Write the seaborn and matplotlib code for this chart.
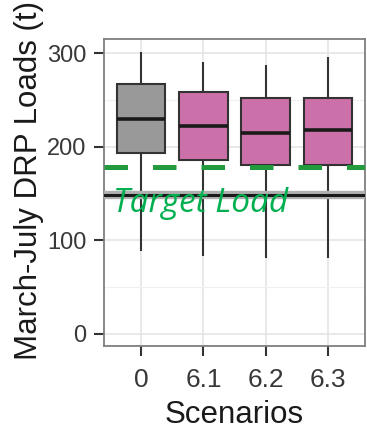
import pandas as pd
import matplotlib
matplotlib.use("Agg")
import matplotlib.pyplot as plt
import matplotlib.patheffects as pe
import seaborn as sns

# box summary values (t)
scenarios = ["0", "6.1", "6.2", "6.3"]
whisk_low = [89, 83, 81, 81]
q1 = [193, 186, 180, 180]
median = [230, 222, 215, 218]
q3 = [267, 258, 252, 252]
whisk_high = [301, 291, 287, 296]
fill_colors = ["#999999", "#CC70AA", "#CC70AA", "#CC70AA"]

target_dash = 178
target_load = 148

rows = []
for i, s in enumerate(scenarios):
    for v in (whisk_low[i], q1[i], median[i], q3[i], whisk_high[i]):
        rows.append({"scenario": s, "load": v})
df = pd.DataFrame(rows)

sns.set_theme(style="white")
plt.rcParams["font.family"] = ["Liberation Sans", "DejaVu Sans"]

fig = plt.figure(figsize=(3.67, 4.30), dpi=100)
ax = fig.add_axes([0.283, 0.195, 0.712, 0.714])

sns.boxplot(data=df, x="scenario", y="load", hue="scenario", order=scenarios,
            palette=fill_colors, saturation=1, width=0.78, whis=(0, 100),
            showcaps=False, linecolor="#333333", linewidth=1.5, legend=False,
            medianprops=dict(color="#1a1a1a", linewidth=2.6), ax=ax)

# grid like ggplot theme_bw
ax.set_yticks([0, 100, 200, 300])
ax.set_yticks([50, 150, 250], minor=True)
ax.grid(True, which="major", color="#e3e3e3", lw=1.1)
ax.grid(True, which="minor", axis="y", color="#f0f0f0", lw=0.8)
ax.set_axisbelow(True)

ax.set_xlim(-0.6, 3.6)
ax.set_ylim(-13, 315)

# patched band and target lines
ax.axhspan(126, 167, color="white", zorder=1.5)
ax.axhline(target_load, color="#1a1a1a", lw=2.2, zorder=3,
           path_effects=[pe.Stroke(linewidth=6, foreground="#b0b0b0"), pe.Normal()])
ax.axhline(target_dash, color="#239A3E", lw=3.6, dashes=(4.7, 5.0), zorder=4)
ax.text(-0.45, 130, "Target Load", color="#00B050", fontsize=24, style="italic",
        family=["Open Sans", "DejaVu Sans"], va="baseline", ha="left", zorder=5)

for sp in ax.spines.values():
    sp.set_color("#7f7f7f")
    sp.set_linewidth(1.3)

ax.tick_params(axis="both", which="major", length=7.5, width=1.5, color="#333333",
               labelcolor="#383838", bottom=True, left=True)
ax.tick_params(axis="x", labelsize=19, pad=8)
ax.tick_params(axis="y", labelsize=17, pad=5)
ax.tick_params(axis="y", which="minor", length=0)

ax.set_xlabel("Scenarios", fontsize=22.5, color="#1a1a1a", labelpad=6)
ax.set_ylabel("March-July DRP Loads (t)", fontsize=22.5, color="#1a1a1a", labelpad=2)
ax.yaxis.label.set_y(0.54)

fig.savefig("out.png", dpi=100)
